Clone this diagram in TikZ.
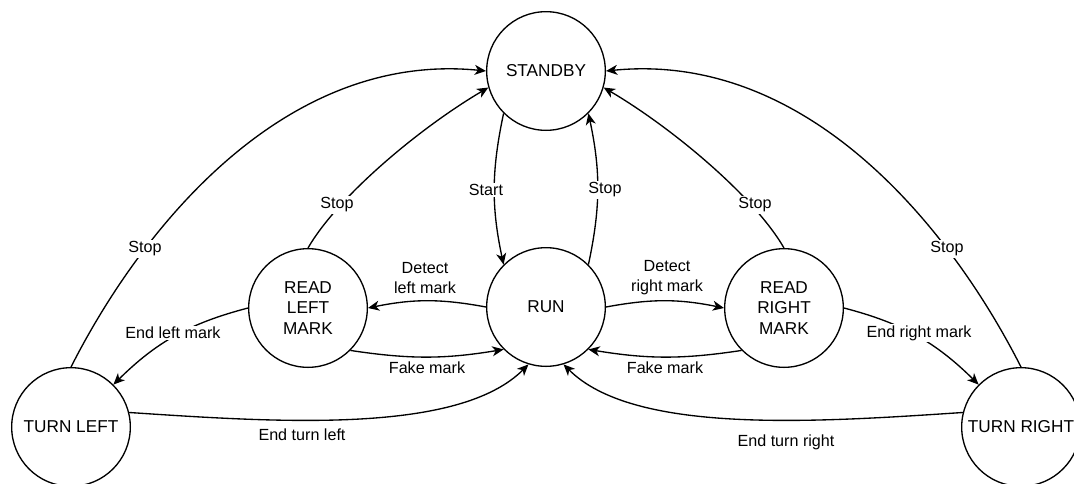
\documentclass[tikz,border=0pt]{standalone}
\usepackage{fontspec}
\setmainfont{Liberation Sans}
\usetikzlibrary{arrows.meta}
\tikzset{
  state/.style={circle, draw, line width=1pt, minimum size=89pt, inner sep=0pt,
    align=center, font=\fontsize{12.9pt}{15.4pt}\selectfont},
  edge/.style={line width=1pt, -{Stealth[length=8.5pt, width=7.5pt, inset=2.5pt]}},
  lbl/.style={fill=white, inner sep=1pt, align=center,
    font=\fontsize{12.1pt}{15pt}\selectfont}
}
\begin{document}
\begin{tikzpicture}[x=0.75pt, y=-0.75pt]
\useasboundingbox (0,0) rectangle (1074,483);
\clip (0,0) rectangle (1074,483);

% states
\node[state] (sb)  at (546,71)   {STANDBY};
\node[state] (run) at (546,307)  {RUN};
\node[state] (rlm) at (308,308)  {READ\\LEFT\\MARK};
\node[state] (rrm) at (784,308)  {READ\\RIGHT\\MARK};
\node[state] (tl)  at (71,427)   {TURN LEFT};
\node[state] (tr)  at (1021,427) {TURN RIGHT};

% standby <-> run
\draw[edge] (sb.225) to[bend right=12] (run.135);
\draw[edge] (run.45) to[bend right=12] (sb.-45);

% stop transitions back to standby
\draw[edge] (tl.north) .. controls +(72,-142) and +(-200,-20) .. (sb.west);
\draw[edge] (tr.north) .. controls +(-72,-142) and +(200,-20) .. (sb.east);
\draw[edge] (rlm.north) .. controls +(30,-52) and +(-68,40) .. (sb.196);
\draw[edge] (rrm.north) .. controls +(-30,-52) and +(68,40) .. (sb.-16);

% mark detection
\draw[edge] (run.west) to[bend right=11] (rlm.east);
\draw[edge] (rlm.-45) to[bend right=9] (run.225);
\draw[edge] (run.east) to[bend left=11] (rrm.west);
\draw[edge] (rrm.225) to[bend left=9] (run.-45);

% turning
\draw[edge] (rlm.west) to[bend right=15] (tl.45);
\draw[edge] (rrm.east) to[bend left=15] (tr.135);
\draw[edge] (tl.14) .. controls +(150,10) and +(-70,70) .. (run.253);
\draw[edge] (tr.166) .. controls +(-150,10) and +(70,70) .. (run.-73);

% labels
\node[lbl] (lstart) at (486,190) {Start};
\node[lbl] (lstop1) at (605,190) {Stop};
\node[lbl] (lstop2) at (145,249) {Stop};
\node[lbl] (lstop3) at (337,205) {Stop};
\node[lbl] (lstop4) at (755,205) {Stop};
\node[lbl] (lstop5) at (947,249) {Stop};
\node[lbl] (ldl)    at (425,278) {Detect\\left mark};
\node[lbl] (ldr)    at (667,278) {Detect\\right mark};
\node[lbl] (lfl)    at (427,368) {Fake mark};
\node[lbl] (lfr)    at (665,368) {Fake mark};
\node[lbl] (lel)    at (173,333) {End left mark};
\node[lbl] (ler)    at (919,333) {End right mark};
\node[lbl] (ltl)    at (302,435) {End turn left};
\node[lbl] (ltr)    at (786,442) {End turn right};
\end{tikzpicture}
\end{document}
